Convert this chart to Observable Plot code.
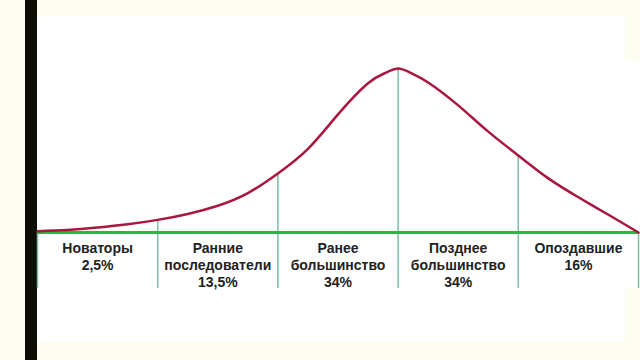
<!DOCTYPE html>
<html>
<head>
<meta charset="utf-8">
<script src="https://cdn.jsdelivr.net/npm/d3@7"></script>
<script src="https://cdn.jsdelivr.net/npm/@observablehq/plot@0.6"></script>
<style>
  html, body { margin: 0; padding: 0; background: #fdfdf1; }
  #wrap { position: relative; width: 640px; height: 360px; overflow: hidden; background: #fdfdf1; }
  #bar { position: absolute; left: 25px; top: 0; width: 12px; height: 360px; background: #0e0e06; }
  #panel1 { position: absolute; left: 37px; top: 16px; width: 588px; height: 326px; background: #ffffff; }
  #panel2 { position: absolute; left: 37px; top: 62px; width: 603px; height: 226px; background: #ffffff; }
  #chart { position: absolute; left: 0; top: 0; }
</style>
</head>
<body>
<div id="wrap">
  <div id="panel1"></div>
  <div id="panel2"></div>
  <div id="bar"></div>
  <div id="chart"></div>
</div>
<script>
// Adopter categories (diffusion of innovations)
const categories = ["Новаторы", "Ранние\nпоследователи", "Ранее\nбольшинство", "Позднее\nбольшинство", "Опоздавшие"];
const shares = ["2,5%", "13,5%", "34%", "34%", "16%"];
const boundaries = [0, 1, 2, 3, 4, 5];

// Bell-shaped curve (x in segment units, y relative, peak = 100)
const curveX = [0, 0.25, 0.5, 0.75, 1.0, 1.25, 1.5, 1.75, 2.0, 2.25, 2.5, 2.75, 2.9, 3.0, 3.1, 3.25, 3.5, 3.75, 4.0, 4.25, 4.5, 4.75, 5.0];
const curveY = [0.8, 1.5, 3.0, 5.0, 7.7, 11.3, 16.3, 24.0, 36.0, 51.0, 72.0, 91.0, 97.5, 100, 97.5, 91.5, 77.5, 61.5, 47.0, 33.0, 21.5, 10.8, 0];

const curve = curveX.map((x, i) => ({x, y: curveY[i]}));
const topAt = b => {
  const p = curve.find(d => Math.abs(d.x - b) < 1e-9);
  return b === 0 ? 0 : (p ? p.y : 0);
};
const labels = categories.map((c, i) => ({x: i + 0.5, text: c + "\n" + shares[i]}));

const chart = Plot.plot({
  width: 640,
  height: 360,
  margin: 0,
  style: {background: "transparent", fontFamily: "'Liberation Sans', Arial, sans-serif"},
  x: {axis: null, domain: [0, 5], range: [37, 638]},
  y: {axis: null, domain: [0, 100], range: [232, 68]},
  marks: [
    Plot.ruleX(boundaries, {x: d => d, y1: d => topAt(d), y2: -34.1, stroke: "#7dbf9f", strokeWidth: 1.5}),
    Plot.ruleY([0], {x1: 0, x2: 5, stroke: "#2fb34b", strokeWidth: 3}),
    Plot.line(curve, {x: "x", y: "y", curve: "natural", stroke: "#a8173f", strokeWidth: 2.5}),
    Plot.text(labels, {x: "x", y: -5.2, text: "text", lineAnchor: "top", lineHeight: 1.22,
      fontSize: 14, fontWeight: "bold", fill: "#222222", textAnchor: "middle"})
  ]
});
document.getElementById("chart").appendChild(chart);
</script>
</body>
</html>
